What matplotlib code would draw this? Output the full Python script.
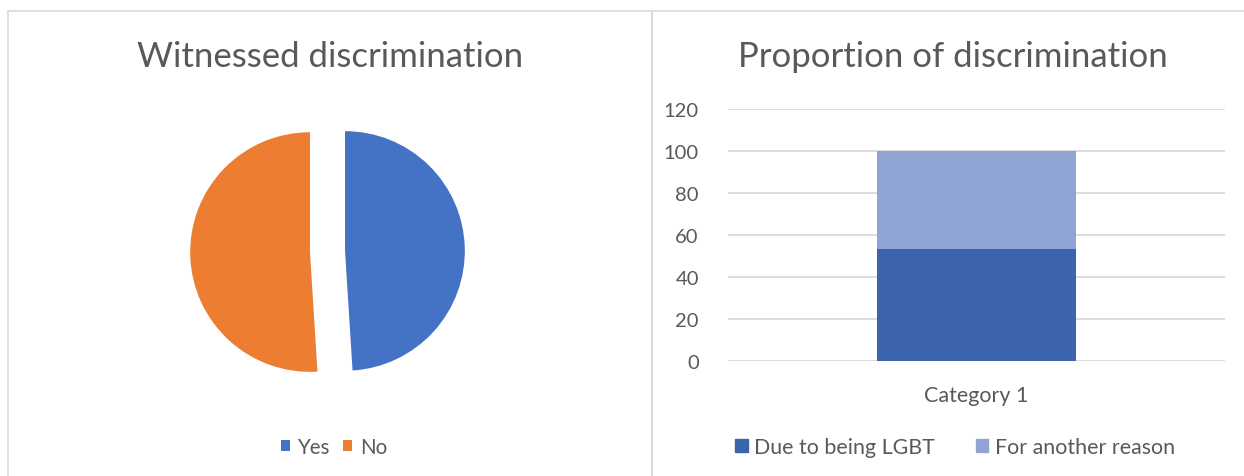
import matplotlib
matplotlib.use('AGG')
import matplotlib.pyplot as plt
from matplotlib.patches import Rectangle, Patch

plt.rcParams['font.family'] = ['Lato', 'DejaVu Sans']

# data
pie_labels = ['Yes', 'No']
pie_values = [49, 51]
pie_colors = ['#4472C4', '#ED7D31']

bar_category = ['Category 1']
bar_series = ['Due to being LGBT', 'For another reason']
bar_lgbt = [53.3]
bar_other = [46.7]
bar_colors = ['#3C64AC', '#8FA4D3']
y_ticks = [0, 20, 40, 60, 80, 100, 120]

W, H = 1244, 477
fig = plt.figure(figsize=(W / 100, H / 100), dpi=100)
text_col = '#595959'


def fx(px):
    return px / W


def fy(py):
    return 1 - py / H


# panel borders
border = '#D9D9D9'
fig.add_artist(Rectangle((fx(8), fy(490)), fx(644), fy(12) - fy(490), transform=fig.transFigure,
                         fill=False, edgecolor=border, lw=1.2))
fig.add_artist(Rectangle((fx(652), fy(490)), fx(620), fy(12) - fy(490), transform=fig.transFigure,
                         fill=False, edgecolor=border, lw=1.2))

# ---- left: pie
ax1 = fig.add_axes([fx(146), fy(434), fx(363), fy(71) - fy(434)])
wedges, _ = ax1.pie(pie_values, colors=pie_colors, startangle=90, counterclock=False,
                    explode=[0.145, 0.145], radius=0.99)
ax1.set_xlim(-1.5, 1.5)
ax1.set_ylim(-1.5, 1.5)
ax1.set_aspect('equal')
fig.text(fx(330), fy(57), 'Witnessed discrimination', ha='center', va='center',
         fontsize=25, color=text_col)
fig.legend(wedges, pie_labels, loc='center', bbox_to_anchor=(fx(334), fy(448)), ncol=2,
           frameon=False, fontsize=14.8, labelcolor=text_col, handlelength=0.45, handleheight=0.45,
           handletextpad=0.35, columnspacing=0.65)

# ---- right: stacked bar
ax2 = fig.add_axes([fx(728), fy(362), fx(497), fy(110) - fy(362)])
ax2.bar(bar_category, bar_lgbt, width=0.4, color=bar_colors[0], label=bar_series[0], zorder=3)
ax2.bar(bar_category, bar_other, bottom=bar_lgbt, width=0.4, color=bar_colors[1],
        label=bar_series[1], zorder=3)
ax2.set_xlim(-0.5, 0.5)
ax2.set_ylim(0, 120)
ax2.set_yticks(y_ticks)
ax2.grid(axis='y', color='#D9D9D9', lw=1.3, zorder=0)
ax2.tick_params(length=0, labelsize=14.5, labelcolor=text_col)
ax2.tick_params(axis='y', pad=21)
ax2.tick_params(axis='x', labelsize=15.5, pad=17)
for s in ax2.spines.values():
    s.set_visible(False)
fig.text(fx(953), fy(57), 'Proportion of discrimination', ha='center', va='center',
         fontsize=25, color=text_col)
handles = [Patch(color=c) for c in bar_colors]
fig.legend(handles, bar_series, loc='center', bbox_to_anchor=(fx(955), fy(448)), ncol=2,
           frameon=False, fontsize=15.4, labelcolor=text_col, handlelength=0.6, handleheight=0.6,
           handletextpad=0.3, columnspacing=1.9)

fig.savefig('out.png', dpi=100)
